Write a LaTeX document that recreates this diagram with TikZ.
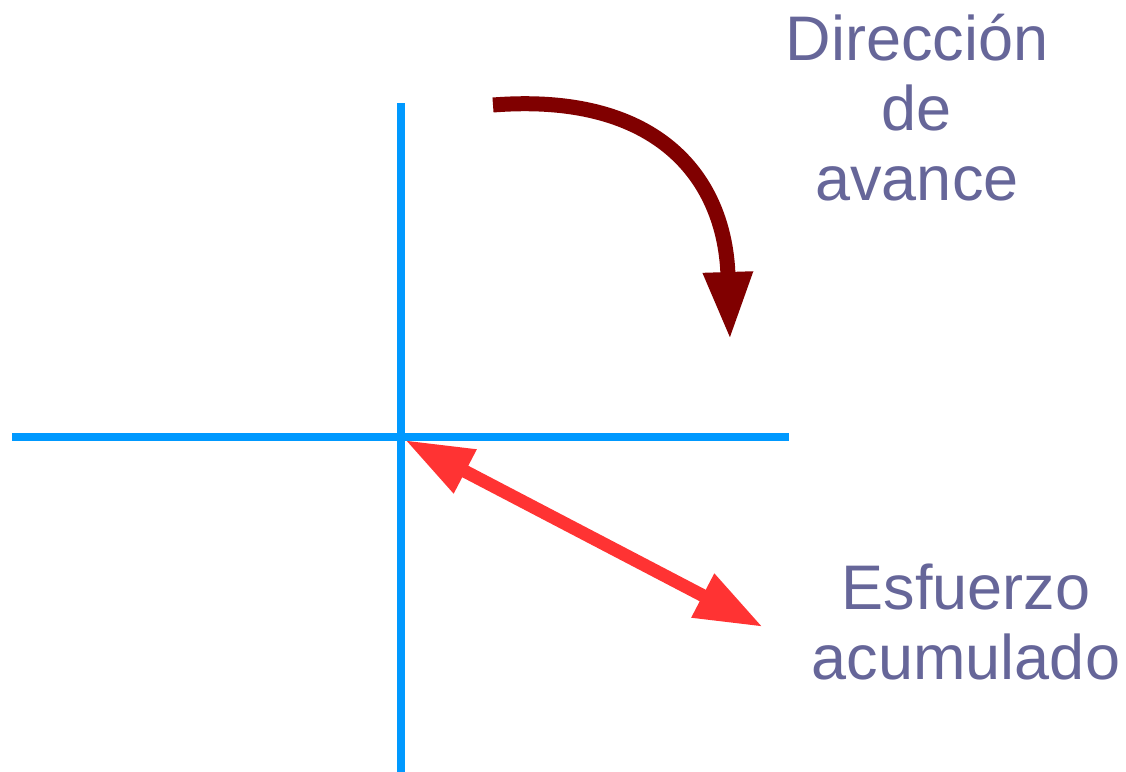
\documentclass[tikz,border=0pt]{standalone}
\usepackage{fontspec}
\setmainfont{Liberation Sans}
\usepackage{tikz}
\usetikzlibrary{arrows.meta}
\usepackage{xcolor}
\definecolor{axisblue}{RGB}{0,153,255}
\definecolor{loadred}{RGB}{255,51,51}
\definecolor{advred}{RGB}{128,0,0}
\definecolor{labelgray}{RGB}{102,102,153}

\begin{document}
\begin{tikzpicture}[
    x=0.5pt, y=-0.5pt,
    axis/.style={line width=4pt, axisblue},
    stress/.style={{Triangle[length=34pt,width=23pt]}-{Triangle[length=34pt,width=23pt]}, line width=6.5pt, loadred},
    advance/.style={-{Triangle[length=34pt,width=23pt]}, line width=7.5pt, advred},
    caption/.style={align=center, labelgray, font=\fontsize{31.5}{35}\selectfont},
]
\useasboundingbox (0,0) rectangle (1126,772);

% === Ejes ===
\coordinate (O) at (401,437);
\coordinate (Top) at (401,103);
\coordinate (Bot) at (401,772);
\coordinate (Left) at (12,437);
\coordinate (Right) at (789,437);
\draw[axis] (Top) -- (Bot);
\draw[axis] (Left) -- (Right);

% === Esfuerzo acumulado ===
\coordinate (S1) at (405,440);
\coordinate (S2) at (763,627);
\draw[stress] (S1) -- (S2);

% === Direccion de avance ===
\coordinate (A1) at (493,105);
\coordinate (A2) at (730,340);
\draw[advance] (A1) .. controls (660,92) and (725,180) .. (A2);

% === Textos ===
\node[caption] (dir) at (917,108) {Dirección\\de\\avance};
\node[caption] (esf) at (966,622) {Esfuerzo\\acumulado};

\end{tikzpicture}
\end{document}
